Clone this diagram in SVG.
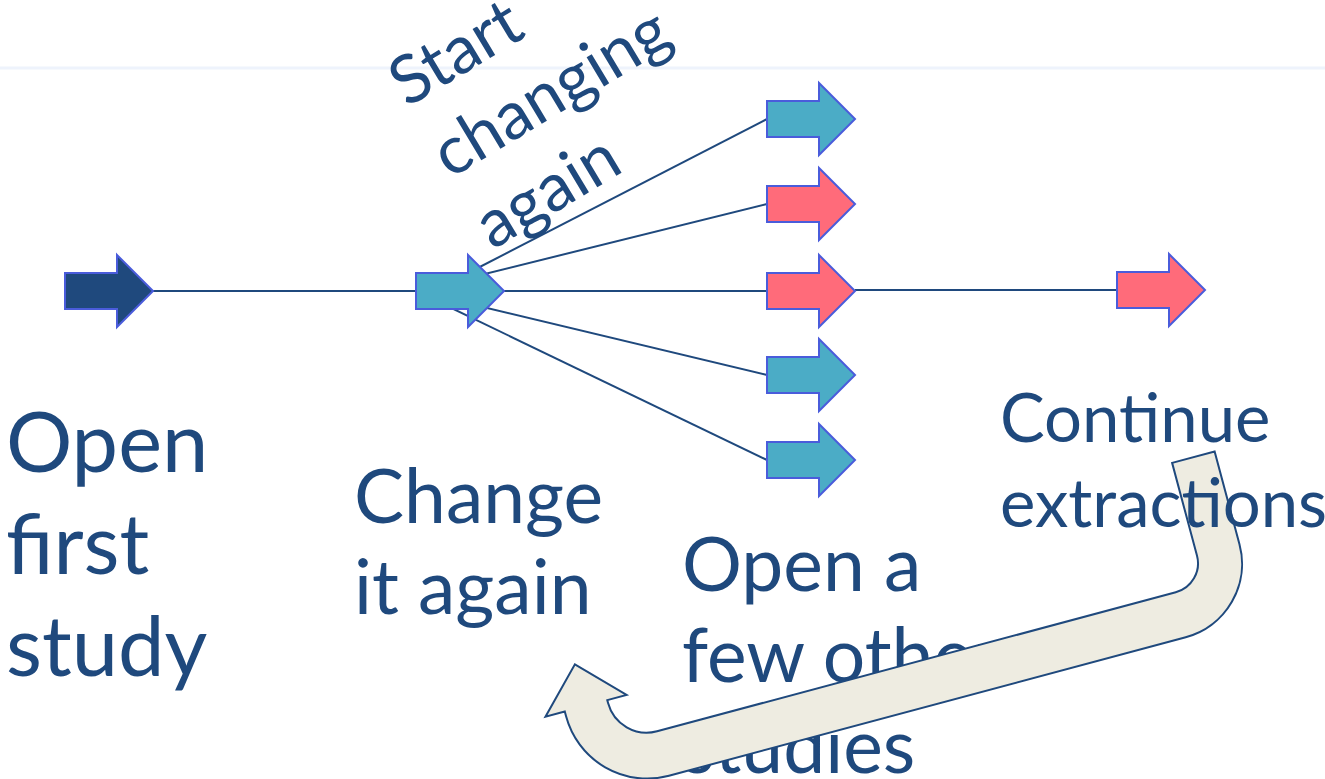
<svg xmlns="http://www.w3.org/2000/svg" width="1325" height="779" viewBox="0 0 1325 779">
<style>
.lbl{font-family:Lato,"Open Sans","Liberation Sans",sans-serif;fill:#1F497D;}
.conn{stroke:#1F497D;stroke-width:2;fill:none;}
.arr{stroke:#4A5CDB;stroke-width:2;stroke-linejoin:miter;}
.navy{fill:#1F497D;}
.teal{fill:#4BACC6;}
.pink{fill:#FF6B7A;}
</style>
<defs>
<path id="blockArrow" d="M0,-18 H52 V-36 L88,0 L52,36 V18 H0 Z"/>
</defs>
<rect width="1325" height="779" fill="#FFFFFF"/>
<line x1="0" y1="68" x2="1325" y2="68" stroke="#EEF3FC" stroke-width="3"/>

<g id="connectors">
<line class="conn" x1="153" y1="291" x2="416" y2="291"/>
<line class="conn" x1="470" y1="272" x2="767" y2="119"/>
<line class="conn" x1="416" y1="291" x2="767" y2="204"/>
<line class="conn" x1="416" y1="291" x2="767" y2="291"/>
<line class="conn" x1="416" y1="291" x2="767" y2="375"/>
<line class="conn" x1="416" y1="291" x2="767" y2="460"/>
<line class="conn" x1="855" y1="290" x2="1117" y2="290"/>
</g>

<g id="node-open-first"><use href="#blockArrow" class="arr navy" transform="translate(65,291)"/></g>
<g id="node-change"><use href="#blockArrow" class="arr teal" transform="translate(416,291)"/></g>
<g id="node-r1"><use href="#blockArrow" class="arr teal" transform="translate(767,119)"/></g>
<g id="node-r2"><use href="#blockArrow" class="arr pink" transform="translate(767,204)"/></g>
<g id="node-r3"><use href="#blockArrow" class="arr pink" transform="translate(767,291)"/></g>
<g id="node-r4"><use href="#blockArrow" class="arr teal" transform="translate(767,375)"/></g>
<g id="node-r5"><use href="#blockArrow" class="arr teal" transform="translate(767,460)"/></g>
<g id="node-continue"><use href="#blockArrow" class="arr pink" transform="translate(1117,290)"/></g>

<g id="label-start">
<text class="lbl" font-size="67" transform="translate(407,108) rotate(-31)"><tspan x="0" y="0">Start</tspan><tspan x="0" y="83">changing</tspan><tspan x="0" y="166">again</tspan></text>
</g>
<g id="label-open-first">
<text class="lbl" font-size="83"><tspan x="6" y="472">Open</tspan><tspan x="6" y="574">first</tspan><tspan x="6" y="676">study</tspan></text>
</g>
<g id="label-change">
<text class="lbl" font-size="75"><tspan x="354" y="523">Change</tspan><tspan x="354" y="614">it again</tspan></text>
</g>
<g id="label-open-few">
<text class="lbl" font-size="75"><tspan x="682" y="591">Open a</tspan><tspan x="682" y="682">few others</tspan><tspan x="682" y="773">studies</tspan></text>
</g>

<g id="uturn">
<path transform="translate(600,700) rotate(-15)" fill="#EEECE1" stroke="#1F497D" stroke-width="2" stroke-linejoin="miter"
d="M614,-81 L658,-81 L658,15 A76,76 0 0 1 582,91 L47,91 A84,84 0 0 1 -37,7 L-37,2 L-57,2 L-15,-41 L27,2 L7,2 L7,5 A40,40 0 0 0 47,45 L584,45 A30,30 0 0 0 614,15 Z"/>
</g>

<g id="label-continue">
<text class="lbl" font-size="67"><tspan x="1000" y="442">Continue</tspan><tspan x="1000" y="527">extractions</tspan></text>
</g>
</svg>
